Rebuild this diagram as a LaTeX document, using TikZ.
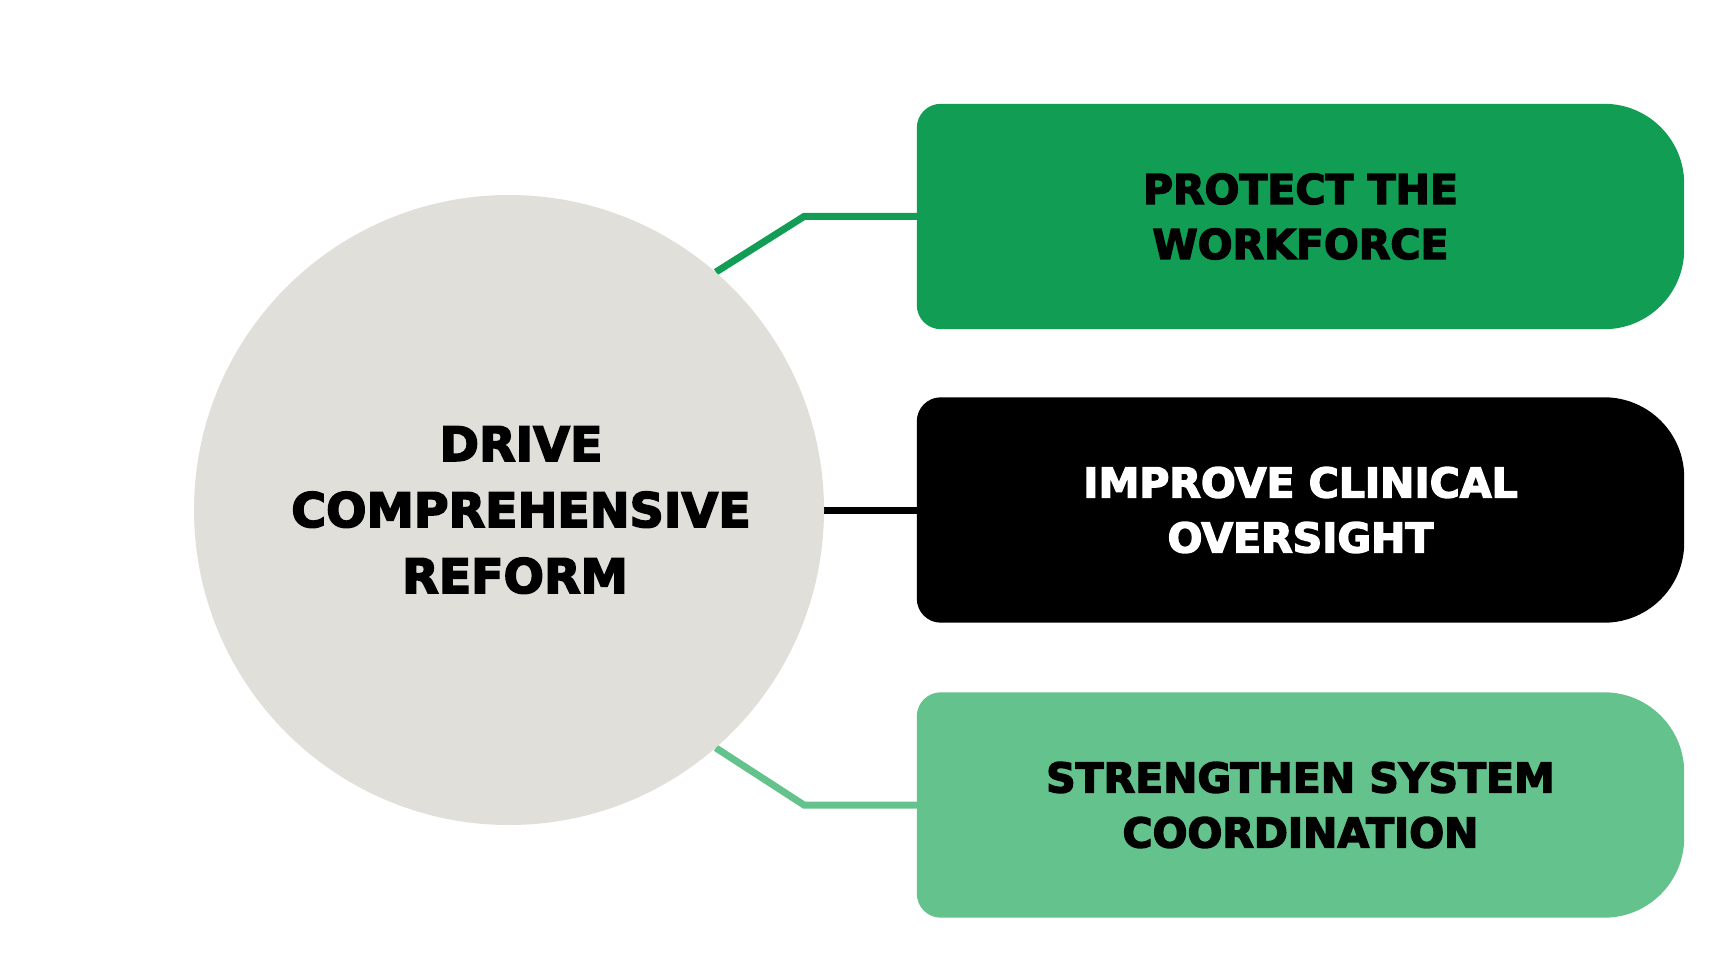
\documentclass[tikz,border=0pt]{standalone}
\usepackage{fontspec}
\newfontfamily\heavy{DejaVu Sans}[FakeBold=3.5]
\usetikzlibrary{backgrounds}
\definecolor{protectgreen}{HTML}{119E54}
\definecolor{coordgreen}{HTML}{64C38D}
\definecolor{reformgray}{HTML}{E0DFDA}

\begin{document}
\begin{tikzpicture}[x=1pt, y=-1pt,
  goal/.style={minimum width=767pt, minimum height=225pt, inner sep=0pt, align=center,
    font=\heavy\bfseries\fontsize{41}{55}\selectfont},
  link/.style={line width=7pt}]
  \useasboundingbox (0,0) rectangle (1735,976);
  % centre
  \node[circle, fill=reformgray, minimum size=630pt, inner sep=0pt, align=center,
    font=\heavy\bfseries\fontsize{47.5}{66}\selectfont] (drive) at (509,510)
    {\hspace*{24pt}DRIVE\\\hspace*{24pt}COMPREHENSIVE\\\hspace*{12pt}REFORM};
  % the three goals
  \node[goal] (protect) at (1300.5,216.5) {PROTECT THE\\WORKFORCE};
  \node[goal, text=white] (improve) at (1300.5,510) {IMPROVE CLINICAL\\OVERSIGHT};
  \node[goal] (strengthen) at (1300.5,805) {STRENGTHEN SYSTEM\\COORDINATION};
  \coordinate (protectbend) at (804,216.5);
  \coordinate (strengthenbend) at (804,805);
  \begin{pgfonlayer}{background}
    % big round corners right, small ones left
    \foreach \goalname/\goalcolor in {protect/protectgreen, improve/black, strengthen/coordgreen}
      \fill[\goalcolor] (\goalname.north) [rounded corners=80pt] -- (\goalname.north east) -- (\goalname.south east)
        -- (\goalname.south) [rounded corners=24pt] -- (\goalname.south west) -- (\goalname.north west) -- cycle;
    \draw[link, protectgreen] (drive.49) -- (protectbend) -- (protect.west);
    \draw[link, black] (drive.east) -- (improve.west);
    \draw[link, coordgreen] (drive.-49) -- (strengthenbend) -- (strengthen.west);
  \end{pgfonlayer}
\end{tikzpicture}
\end{document}
